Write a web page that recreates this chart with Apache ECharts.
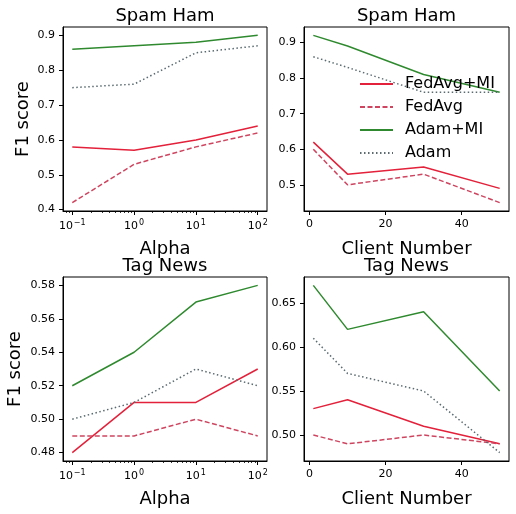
<!DOCTYPE html>
<html>
<head>
<meta charset="utf-8">
<script src="https://cdn.jsdelivr.net/npm/echarts@6/dist/echarts.min.js"></script>
<style>
html, body { margin: 0; padding: 0; background: #fff; }
#chart { width: 516px; height: 514px; }
</style>
</head>
<body>
<div id="chart"></div>
<script>
// x values
const alphaValues = [0.1, 1, 10, 100]
const clientValues = [1, 10, 30, 50]

// Spam Ham vs alpha
const spamAlphaFedAvgMI = [0.58, 0.57, 0.60, 0.64]
const spamAlphaFedAvg = [0.42, 0.53, 0.58, 0.62]
const spamAlphaAdamMI = [0.86, 0.87, 0.88, 0.90]
const spamAlphaAdam = [0.75, 0.76, 0.85, 0.87]

// Spam Ham vs client number
const spamClientFedAvgMI = [0.62, 0.53, 0.55, 0.49]
const spamClientFedAvg = [0.60, 0.50, 0.53, 0.45]
const spamClientAdamMI = [0.92, 0.89, 0.81, 0.76]
const spamClientAdam = [0.86, 0.83, 0.76, 0.76]

// Tag News vs alpha
const tagAlphaFedAvgMI = [0.48, 0.51, 0.51, 0.53]
const tagAlphaFedAvg = [0.49, 0.49, 0.50, 0.49]
const tagAlphaAdamMI = [0.52, 0.54, 0.57, 0.58]
const tagAlphaAdam = [0.50, 0.51, 0.53, 0.52]

// Tag News vs client number
const tagClientFedAvgMI = [0.53, 0.54, 0.51, 0.49]
const tagClientFedAvg = [0.50, 0.49, 0.50, 0.49]
const tagClientAdamMI = [0.67, 0.62, 0.64, 0.55]
const tagClientAdam = [0.61, 0.57, 0.55, 0.48]

// tick labels
const alphaTicks = [0.1, 1, 10, 100]
const alphaMinorTicks = [0.08, 0.09, 0.2, 0.3, 0.4, 0.5, 0.6, 0.7, 0.8, 0.9,
  2, 3, 4, 5, 6, 7, 8, 9, 20, 30, 40, 50, 60, 70, 80, 90]
const clientTicks = [0, 20, 40]
const spamAlphaYTicks = [0.4, 0.5, 0.6, 0.7, 0.8, 0.9]
const spamClientYTicks = [0.5, 0.6, 0.7, 0.8, 0.9]
const tagAlphaYTicks = [0.48, 0.50, 0.52, 0.54, 0.56, 0.58]
const tagClientYTicks = [0.50, 0.55, 0.60, 0.65]

const seriesNames = ['FedAvg+MI', 'FedAvg', 'Adam+MI', 'Adam']
const seriesStyles = [
  { color: '#e3213a', type: 'solid' },
  { color: '#cf4560', type: [5, 2.5] },
  { color: '#2f8a2f', type: 'solid' },
  { color: '#5a6a70', type: [1.5, 2.5] }
]

const FONT = 'DejaVu Sans'

const panels = [
  { title: 'Spam Ham', x: alphaValues, log: true, ys: [spamAlphaFedAvgMI, spamAlphaFedAvg, spamAlphaAdamMI, spamAlphaAdam], yTicks: spamAlphaYTicks, dec: 1, grid: { left: 63, top: 27, width: 204, height: 184 }, yName: 'F1 score', yGap: 31 },
  { title: 'Spam Ham', x: clientValues, log: false, ys: [spamClientFedAvgMI, spamClientFedAvg, spamClientAdamMI, spamClientAdam], yTicks: spamClientYTicks, dec: 1, grid: { left: 304, top: 27, width: 205, height: 184 }, yName: '', yGap: 0 },
  { title: 'Tag News', x: alphaValues, log: true, ys: [tagAlphaFedAvgMI, tagAlphaFedAvg, tagAlphaAdamMI, tagAlphaAdam], yTicks: tagAlphaYTicks, dec: 2, grid: { left: 63, top: 277, width: 204, height: 184 }, yName: 'F1 score', yGap: 39 },
  { title: 'Tag News', x: clientValues, log: false, ys: [tagClientFedAvgMI, tagClientFedAvg, tagClientAdamMI, tagClientAdam], yTicks: tagClientYTicks, dec: 2, grid: { left: 304, top: 277, width: 205, height: 184 }, yName: '', yGap: 0 }
]

const chart = echarts.init(document.getElementById('chart'))

const grids = []
const xAxes = []
const yAxes = []
const series = []
const graphics = []

const axisLine = { show: true, onZero: false, lineStyle: { color: '#000', width: 1 } }
const labelStyle = { color: '#000', fontSize: 11, fontFamily: FONT, margin: 8 }
const nameStyle = { color: '#000', fontSize: 18, fontFamily: FONT }

panels.forEach((p, i) => {
  grids.push(Object.assign({ show: true, borderColor: '#000', borderWidth: 1, backgroundColor: '#fff' }, p.grid))

  // matplotlib style 5% margins
  const all = [].concat(...p.ys)
  const lo = Math.min(...all), hi = Math.max(...all)
  const pad = (hi - lo) * 0.05

  if (p.log) {
    const l0 = Math.log10(p.x[0]), l1 = Math.log10(p.x[p.x.length - 1])
    const lp = (l1 - l0) * 0.05
    xAxes.push({
      type: 'log', logBase: 10, gridIndex: i, position: 'bottom',
      min: Math.pow(10, l0 - lp), max: Math.pow(10, l1 + lp),
      axisLine: axisLine,
      axisTick: { show: true, length: 4, customValues: alphaTicks, lineStyle: { color: '#000' } },
      axisLabel: Object.assign({
        customValues: alphaTicks,
        formatter: v => '{b|10}{s|' + String(Math.round(Math.log10(v))).replace('-', '\u2212') + '}',
        rich: {
          b: { fontSize: 11, fontFamily: FONT, color: '#000' },
          s: { fontSize: 8, fontFamily: FONT, color: '#000', padding: [0, 0, 7, 1] }
        }
      }, labelStyle),
      splitLine: { show: false },
      name: 'Alpha', nameLocation: 'middle', nameGap: 29, nameTextStyle: nameStyle
    })
  } else {
    const pd = (p.x[p.x.length - 1] - p.x[0]) * 0.05
    xAxes.push({
      type: 'value', gridIndex: i, position: 'bottom',
      min: p.x[0] - pd, max: p.x[p.x.length - 1] + pd,
      axisLine: axisLine,
      axisTick: { show: true, length: 4, customValues: clientTicks, lineStyle: { color: '#000' } },
      axisLabel: Object.assign({ customValues: clientTicks }, labelStyle),
      splitLine: { show: false },
      name: 'Client Number', nameLocation: 'middle', nameGap: 29, nameTextStyle: nameStyle
    })
  }

  yAxes.push({
    type: 'value', gridIndex: i, position: 'left',
    min: lo - pad, max: hi + pad,
    axisLine: axisLine,
    axisTick: { show: true, length: 4, customValues: p.yTicks, lineStyle: { color: '#000' } },
    axisLabel: Object.assign({ customValues: p.yTicks, formatter: v => v.toFixed(p.dec) }, labelStyle),
    splitLine: { show: false },
    name: p.yName, nameLocation: 'middle', nameGap: p.yGap, nameTextStyle: nameStyle
  })

  p.ys.forEach((ys, k) => {
    series.push({
      name: seriesNames[k], type: 'line', xAxisIndex: i, yAxisIndex: i,
      symbol: 'none', animation: false,
      lineStyle: { color: seriesStyles[k].color, width: 1.5, type: seriesStyles[k].type },
      itemStyle: { color: seriesStyles[k].color },
      data: p.x.map((x, j) => [x, ys[j]])
    })
  })

  graphics.push({
    type: 'text', x: p.grid.left + p.grid.width / 2, y: p.grid.top - 11,
    style: { text: p.title, fontSize: 18, fontFamily: FONT, fill: '#000', align: 'center', verticalAlign: 'middle' }
  })
})

// minor ticks for log axes
panels.forEach((p, i) => {
  if (!p.log) return
  xAxes.push({
    type: 'log', logBase: 10, gridIndex: i, position: 'bottom',
    min: xAxes[i].min, max: xAxes[i].max,
    axisLine: { show: false },
    axisTick: { show: true, length: 2, customValues: alphaMinorTicks, lineStyle: { color: '#000', width: 0.8 } },
    axisLabel: { show: false },
    splitLine: { show: false }
  })
})

var option = {
  backgroundColor: '#fff',
  animation: false,
  textStyle: { fontFamily: FONT },
  grid: grids,
  xAxis: xAxes,
  yAxis: yAxes,
  legend: {
    data: seriesNames, orient: 'vertical', left: 354, top: 71,
    itemWidth: 33, itemHeight: 14, itemGap: 7,
    itemStyle: { opacity: 0 },
    textStyle: { fontSize: 16, fontFamily: FONT, color: '#000', padding: [0, 0, 0, 7] }
  },
  graphic: graphics,
  series: series
}

chart.setOption(option)
</script>
</body>
</html>
